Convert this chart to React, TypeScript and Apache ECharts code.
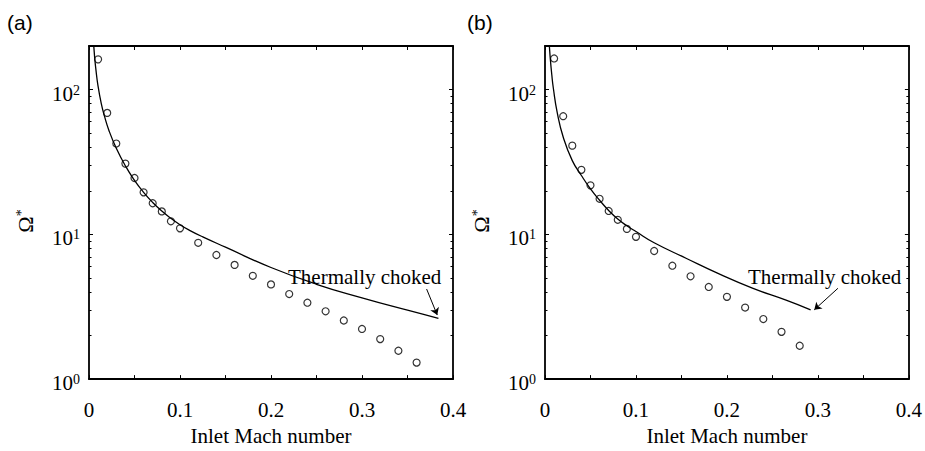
import React, { useEffect, useRef } from "react";
import * as echarts from "echarts";

// ---- data ----
const circlesAX = [0.01, 0.02, 0.03, 0.04, 0.05, 0.06, 0.07, 0.08, 0.09, 0.1, 0.12, 0.14, 0.16, 0.18, 0.2, 0.22, 0.24, 0.26, 0.28, 0.3, 0.32, 0.34, 0.36];
const circlesAY = [161.7, 69.0, 42.4, 30.8, 24.5, 19.5, 16.4, 14.4, 12.3, 11.0, 8.74, 7.2, 6.15, 5.17, 4.51, 3.87, 3.37, 2.94, 2.54, 2.22, 1.89, 1.57, 1.3];

const lineAX = [0.005, 0.0054, 0.0063, 0.0075, 0.0099, 0.0135, 0.017, 0.022, 0.03, 0.04, 0.05, 0.06, 0.07, 0.08, 0.09, 0.1, 0.11, 0.125, 0.15, 0.2, 0.25, 0.3, 0.35, 0.384];
const lineAY = [210, 194, 165, 139, 106, 80, 65.5, 52, 39.3, 29.7, 23.6, 19.5, 16.6, 14.5, 12.9, 11.65, 10.7, 9.6, 8.15, 5.9, 4.52, 3.64, 2.99, 2.63];

const circlesBX = [0.01, 0.02, 0.03, 0.04, 0.05, 0.06, 0.07, 0.08, 0.09, 0.1, 0.12, 0.14, 0.16, 0.18, 0.2, 0.22, 0.24, 0.26, 0.28];
const circlesBY = [164, 65.5, 41.0, 27.9, 21.8, 17.6, 14.5, 12.6, 10.9, 9.61, 7.67, 6.07, 5.13, 4.33, 3.7, 3.12, 2.6, 2.12, 1.7];

const lineBX = [0.0045, 0.0048, 0.0058, 0.0075, 0.0091, 0.0135, 0.02, 0.03, 0.04, 0.05, 0.06, 0.07, 0.08, 0.09, 0.1, 0.12, 0.155, 0.192, 0.228, 0.265, 0.292];
const lineBY = [214, 200, 164, 126, 103, 69, 47, 32.3, 25.5, 20.6, 17.2, 14.6, 12.75, 11.45, 10.45, 8.75, 6.84, 5.31, 4.25, 3.51, 3.01];

// arrows (data coordinates): [start, end]
const arrowA = [[0.371, 4.19], [0.3827, 2.77]];
const arrowB = [[0.322, 4.24], [0.296, 3.01]];

const xTicks = [0, 0.4, 0.05];
const yMajor = [1, 10, 100];
const yMinor = [2, 3, 4, 5, 6, 7, 8, 9, 20, 30, 40, 50, 60, 70, 80, 90];
const annotation = "Thermally choked";
const xTitle = "Inlet Mach number";
const panelLabels = ["(a)", "(b)"];

const SERIF = '"Liberation Serif", "Times New Roman", Times, serif';
const SANS = '"Liberation Sans", Arial, Helvetica, sans-serif';
const FS = 21;

const zip = (xs: number[], ys: number[]) => xs.map((x, i) => [x, ys[i]]);

export default function App() {
  const ref = useRef<HTMLDivElement>(null);
  useEffect(() => {
    if (!ref.current) return;
    const chart = echarts.init(ref.current, undefined, { renderer: "svg" });

    const axisLine = { show: true, lineStyle: { color: "#000", width: 1.8 } };
    const xAxes: any[] = [];
    const yAxes: any[] = [];
    [0, 1].forEach((g) => {
      xAxes.push({
        gridIndex: g,
        type: "value",
        min: xTicks[0],
        max: xTicks[1],
        interval: xTicks[2],
        position: "bottom",
        axisLine,
        axisTick: { show: true, inside: true, length: 4, lineStyle: { color: "#000", width: 1 } },
        splitLine: { show: false },
        axisLabel: {
          color: "#000",
          fontFamily: SERIF,
          fontSize: FS,
          margin: 20,
          formatter: (v: number) => {
            const k = Math.round(v * 20);
            return k % 2 === 0 ? String(k / 20) : "";
          },
        },
        name: xTitle,
        nameLocation: "middle",
        nameGap: 45,
        nameTextStyle: { color: "#000", fontFamily: SERIF, fontSize: FS },
      });
      xAxes.push({
        gridIndex: g,
        type: "value",
        min: xTicks[0],
        max: xTicks[1],
        interval: xTicks[2],
        position: "top",
        axisLine,
        axisTick: { show: true, inside: true, length: 4, lineStyle: { color: "#000", width: 1 } },
        splitLine: { show: false },
        axisLabel: { show: false },
      });
      ["left", "right"].forEach((pos) => {
        yAxes.push({
          gridIndex: g,
          type: "log",
          logBase: 10,
          min: 1,
          max: 200,
          position: pos,
          axisLine,
          splitLine: { show: false },
          minorTick: { show: false },
          axisTick: { show: true, inside: true, length: 4, customValues: yMajor, lineStyle: { color: "#000", width: 1 } },
          axisLabel: pos === "left"
            ? {
                show: true,
                customValues: yMajor,
                color: "#000",
                fontFamily: SERIF,
                fontSize: FS,
                lineHeight: 21,
                margin: 9,
                padding: [8, 0, 0, 0],
                formatter: (v: number) => `10{sup|${Math.round(Math.log10(v))}}`,
                rich: {
                  sup: { fontFamily: SERIF, fontSize: 14, color: "#000", verticalAlign: "top", lineHeight: 14 },
                },
              }
            : { show: false },
        });
        yAxes.push({
          gridIndex: g,
          type: "log",
          logBase: 10,
          min: 1,
          max: 200,
          position: pos,
          axisLine: { show: false },
          splitLine: { show: false },
          axisTick: { show: true, inside: true, length: 2.5, customValues: yMinor, lineStyle: { color: "#000", width: 1 } },
          axisLabel: { show: false },
        });
      });
    });

    const lineSeries = (g: number, xs: number[], ys: number[], arrow: number[][]) => ({
      type: "line",
      xAxisIndex: g * 2,
      yAxisIndex: g * 4,
      data: zip(xs, ys),
      showSymbol: false,
      symbol: "none",
      smooth: 0.5,
      clip: true,
      lineStyle: { color: "#000", width: 1.3 },
      markLine: {
        silent: true,
        symbol: ["none", "arrow"],
        symbolSize: 7,
        lineStyle: { color: "#000", width: 1, type: "solid" },
        label: { show: false },
        data: [[{ coord: arrow[0] }, { coord: arrow[1] }]],
      },
    });
    const scatterSeries = (g: number, xs: number[], ys: number[]) => ({
      type: "scatter",
      xAxisIndex: g * 2,
      yAxisIndex: g * 4,
      data: zip(xs, ys),
      symbol: "circle",
      symbolSize: 7,
      itemStyle: { color: "rgba(0,0,0,0)", borderColor: "#000", borderWidth: 1.2 },
    });

    const omega = (cx: number) => ({
      type: "text",
      x: cx,
      y: 221,
      rotation: Math.PI / 2,
      style: {
        text: "Ω{sup|*}",
        fill: "#000",
        font: `22px ${SERIF}`,
        align: "center",
        verticalAlign: "middle",
        rich: { sup: { fontSize: 14, fontFamily: SERIF, verticalAlign: "top", lineHeight: 14, fill: "#000" } },
      },
    });

    chart.setOption({
      animation: false,
      backgroundColor: "#fff",
      grid: [
        { left: 89, top: 46, width: 364, height: 346.5 },
        { left: 545, top: 46, width: 365, height: 346.5 },
      ],
      xAxis: xAxes,
      yAxis: yAxes,
      series: [
        lineSeries(0, lineAX, lineAY, arrowA),
        scatterSeries(0, circlesAX, circlesAY),
        lineSeries(1, lineBX, lineBY, arrowB),
        scatterSeries(1, circlesBX, circlesBY),
      ],
      graphic: [
        { type: "text", x: 7, y: 22, style: { text: panelLabels[0], fill: "#000", font: `21px ${SANS}`, verticalAlign: "middle" } },
        { type: "text", x: 467, y: 22, style: { text: panelLabels[1], fill: "#000", font: `21px ${SANS}`, verticalAlign: "middle" } },
        omega(25),
        omega(481),
        { type: "text", x: 288, y: 277, style: { text: annotation, fill: "#000", font: `${FS}px ${SERIF}`, verticalAlign: "middle" } },
        { type: "text", x: 748, y: 277, style: { text: annotation, fill: "#000", font: `${FS}px ${SERIF}`, verticalAlign: "middle" } },
      ],
    });
    return () => chart.dispose();
  }, []);
  return (
    <div
      ref={ref}
      style={{ position: "absolute", left: 0, top: 0, width: 925, height: 451, background: "#fff" }}
    />
  );
}
